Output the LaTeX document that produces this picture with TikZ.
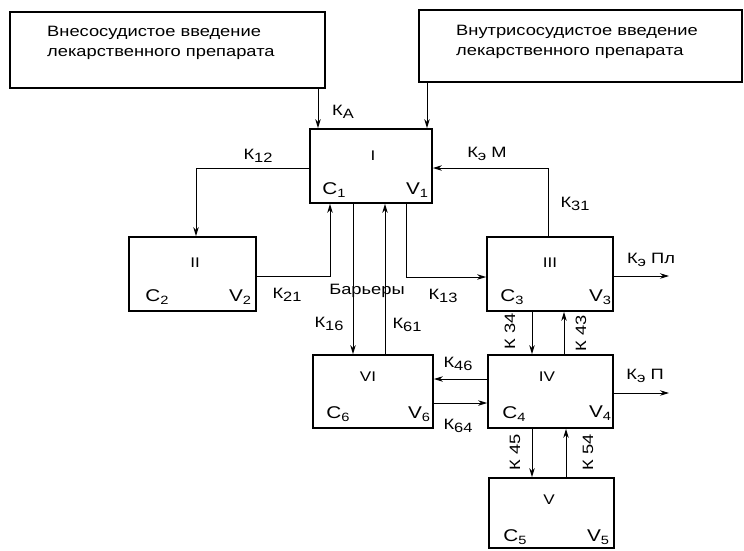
\documentclass[tikz,border=0pt]{standalone}
\usepackage{fontspec}
\setmainfont{Liberation Sans}[FakeStretch=1.22]
\usetikzlibrary{arrows.meta}
\newcommand{\lw}[1]{\raisebox{-0.45ex}{\fontsize{13.5}{13.5}\selectfont #1}}
\newcommand{\cs}[1]{\raisebox{-0.3ex}{\fontsize{12}{12}\selectfont #1}}
\begin{document}
\begin{tikzpicture}[x=1pt,y=-1pt,
  box/.style={draw, line width=1.8pt, inner sep=0pt},
  arr/.style={line width=0.9pt, -{Stealth[length=9pt,width=5.5pt]}},
  lbl/.style={inner sep=0pt, font=\fontsize{15}{15}\selectfont},
  big/.style={inner sep=0pt, font=\fontsize{17}{17}\selectfont},
  rom/.style={inner sep=0pt, font=\fontsize{14}{14}\selectfont},
  toptext/.style={inner sep=0pt, anchor=west, align=left, font=\fontsize{15}{20.5}\selectfont}]
\useasboundingbox (0,0) rectangle (744,550);

% boxes
\node[box, minimum width=315pt, minimum height=76pt] (A) at (167.5,50) {};
\node[box, minimum width=323pt, minimum height=72pt] (B) at (580.5,46) {};
\node[box, minimum width=122pt, minimum height=74pt] (I) at (371,166) {};
\node[box, minimum width=127pt, minimum height=74pt] (II) at (192.5,274) {};
\node[box, minimum width=126pt, minimum height=74pt] (III) at (550,274) {};
\node[box, minimum width=120pt, minimum height=73pt] (VI) at (373,391.5) {};
\node[box, minimum width=125pt, minimum height=73pt] (IV) at (550.5,391.5) {};
\node[box, minimum width=125pt, minimum height=70pt] (V) at (551.5,513) {};

% top texts
\node[toptext] (tA) at (47,43) {Внесосудистое введение\\лекарственного препарата};
\node[toptext] (tB) at (456,42) {Внутрисосудистое введение\\лекарственного препарата};

% box contents
\node[rom] (nI) at (373,156) {I};
\node[big] (c1) at (334,190) {C\cs{1}};
\node[big] (v1) at (417,190) {V\cs{1}};
\node[rom] (nII) at (195,263) {II};
\node[big] (c2) at (157,297) {C\cs{2}};
\node[big] (v2) at (240,297) {V\cs{2}};
\node[rom] (nIII) at (550,263) {III};
\node[big] (c3) at (512,297) {C\cs{3}};
\node[big] (v3) at (600,297) {V\cs{3}};
\node[rom] (nVI) at (368,377) {VI};
\node[big] (c6) at (338,414) {C\cs{6}};
\node[big] (v6) at (419,414) {V\cs{6}};
\node[rom] (nIV) at (547,377) {IV};
\node[big] (c4) at (514,414) {C\cs{4}};
\node[big] (v4) at (600,413) {V\cs{4}};
\node[rom] (nV) at (549,500) {V};
\node[big] (c5) at (515,537) {C\cs{5}};
\node[big] (v5) at (598,537) {V\cs{5}};

% helper coordinates
\coordinate (xa) at (318,0);
\coordinate (xb) at (427,0);
\coordinate (x12) at (196,0);
\coordinate (x21) at (330,0);
\coordinate (x16) at (353,0);
\coordinate (x61) at (385,0);
\coordinate (x13) at (406,0);
\coordinate (x31) at (548,0);
\coordinate (x34) at (532,0);
\coordinate (x43) at (564,0);
\coordinate (x45) at (532,0);
\coordinate (x54) at (566,0);
\coordinate (y12) at (0,168);
\coordinate (y21) at (0,276);
\coordinate (y13) at (0,277);
\coordinate (y31) at (0,168);
\coordinate (y46) at (0,379);
\coordinate (y64) at (0,403);
\coordinate (ePl) at (669,276);
\coordinate (eP) at (669,393);

% connectors
\draw[arr] (A.south -| xa) -- (I.north -| xa);
\draw[arr] (B.south -| xb) -- (I.north -| xb);
\draw[arr] (I.west |- y12) -| (II.north -| x12);
\draw[arr] (II.east |- y21) -| (I.south -| x21);
\draw[arr] (I.south -| x13) |- (III.west |- y13);
\draw[arr] (III.north -| x31) |- (I.east |- y31);
\draw[arr] (III.east |- ePl) -- (ePl);
\draw[arr] (I.south -| x16) -- (VI.north -| x16);
\draw[arr] (VI.north -| x61) -- (I.south -| x61);
\draw[arr] (IV.west |- y46) -- (VI.east |- y46);
\draw[arr] (VI.east |- y64) -- (IV.west |- y64);
\draw[arr] (III.south -| x34) -- (IV.north -| x34);
\draw[arr] (IV.north -| x43) -- (III.south -| x43);
\draw[arr] (IV.east |- eP) -- (eP);
\draw[arr] (IV.south -| x45) -- (V.north -| x45);
\draw[arr] (V.north -| x54) -- (IV.south -| x54);

% labels
\node[lbl] (lA) at (343,112) {К\lw{A}};
\node[lbl] (l12) at (258,156) {К\lw{12}};
\node[lbl] (l21) at (287,295) {К\lw{21}};
\node[lbl] (bar) at (367,291) {Барьеры};
\node[lbl] (l13) at (443,296) {К\lw{13}};
\node[lbl] (lM) at (487,154) {К\lw{э} М};
\node[lbl] (l31) at (575,204) {К\lw{31}};
\node[lbl] (lPl) at (651,260) {К\lw{э} Пл};
\node[lbl] (l16) at (329,324) {К\lw{16}};
\node[lbl] (l61) at (407,325) {К\lw{61}};
\node[lbl] (l46) at (458,364) {К\lw{46}};
\node[lbl] (l64) at (458,426) {К\lw{64}};
\node[lbl] (lP) at (645,376) {К\lw{э} П};
\node[lbl, rotate=90] (l34) at (510,331) {К 34};
\node[lbl, rotate=90] (l43) at (581,333) {К 43};
\node[lbl, rotate=90] (l45) at (515,452) {К 45};
\node[lbl, rotate=90] (l54) at (588,452) {К 54};
\end{tikzpicture}
\end{document}
